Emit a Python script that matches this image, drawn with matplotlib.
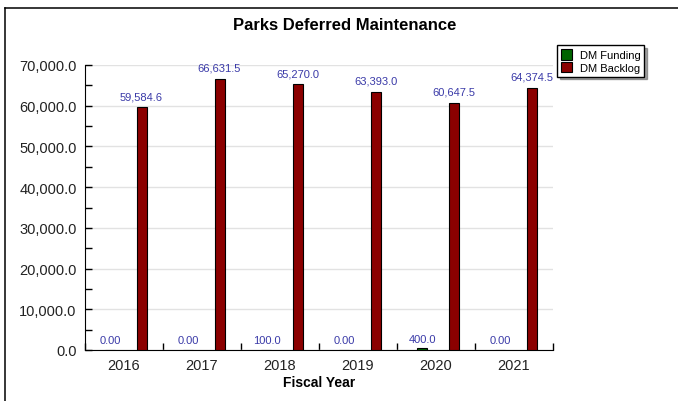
import numpy as np
import matplotlib.pyplot as plt
from matplotlib.lines import Line2D
from matplotlib.ticker import FuncFormatter, MultipleLocator

plt.rcParams['font.family'] = ['Liberation Sans', 'DejaVu Sans']

years = ['2016', '2017', '2018', '2019', '2020', '2021']
funding = [0, 0, 100, 0, 400, 0]
backlog = [59584.6, 66631.5, 65270.0, 63393.0, 60647.5, 64374.5]
funding_labels = ['0.00', '0.00', '100.0', '0.00', '400.0', '0.00']

fig = plt.figure(figsize=(6.78, 4.02), dpi=100)
ax = fig.add_axes([85 / 678, 1 - 351 / 402, 468 / 678, 285 / 402])

x = np.arange(len(years))
w = 0.128
b1 = ax.bar(x - 0.185, funding, w, color='#006400', edgecolor='black', linewidth=0.8, zorder=3)
b2 = ax.bar(x + 0.225, backlog, w, color='#8B0000', edgecolor='black', linewidth=0.8, zorder=3)

lab_col = '#3a3aa8'
for i in range(len(years)):
    ax.annotate(funding_labels[i], (x[i] - 0.17, funding[i]), xytext=(0, 3.5),
                textcoords='offset points', ha='center', va='bottom',
                fontsize=8, color=lab_col)
    ax.annotate(f'{backlog[i]:,.1f}', (x[i] + 0.225, backlog[i]), xytext=(0, 4.5),
                textcoords='offset points', ha='center', va='bottom',
                fontsize=8, color=lab_col, annotation_clip=False)

ax.set_xlim(-0.5, 5.5)
ax.set_ylim(0, 70000)
ax.set_xticks(x)
ax.set_xticklabels(years, fontsize=10.5, color='#222222')
ax.set_xticks(np.arange(-0.5, 6, 1), minor=True)
ax.tick_params(axis='x', which='major', length=0, pad=6)
ax.tick_params(axis='x', which='minor', direction='in', length=5, width=1)
ax.yaxis.set_major_locator(MultipleLocator(10000))
ax.yaxis.set_minor_locator(MultipleLocator(5000))
ax.yaxis.set_major_formatter(FuncFormatter(lambda v, p: f'{v:,.1f}'))
ax.tick_params(axis='y', which='both', direction='in', length=5, width=1,
               labelsize=10.5, labelcolor='#222222', pad=6)
ax.grid(axis='y', color='#e2e2e2', linewidth=1, zorder=0)
ax.spines['top'].set_visible(False)
ax.spines['right'].set_visible(False)
ax.set_xlabel('Fiscal Year', fontsize=10, fontweight='bold', labelpad=2)

fig.text(345 / 678, 1 - 26 / 402, 'Parks Deferred Maintenance', ha='center',
         va='center', fontsize=12, fontweight='bold')

leg = fig.legend([b1, b2], ['DM Funding', 'DM Backlog'], loc='upper left',
                 bbox_to_anchor=(557 / 678, 1 - 46 / 402), fontsize=8,
                 frameon=True, fancybox=False, shadow=True, handlelength=1.0,
                 handleheight=1.1, handletextpad=0.7, borderpad=0.35,
                 labelspacing=0.15, borderaxespad=0)
leg.get_frame().set_edgecolor('black')
leg.get_frame().set_linewidth(1)

fig.add_artist(Line2D([5 / 678, 1], [1 - 9 / 402] * 2, color='black', linewidth=1.1))
fig.add_artist(Line2D([5 / 678] * 2, [0, 1 - 9 / 402], color='black', linewidth=1.1))

fig.savefig('out.png', dpi=100)
